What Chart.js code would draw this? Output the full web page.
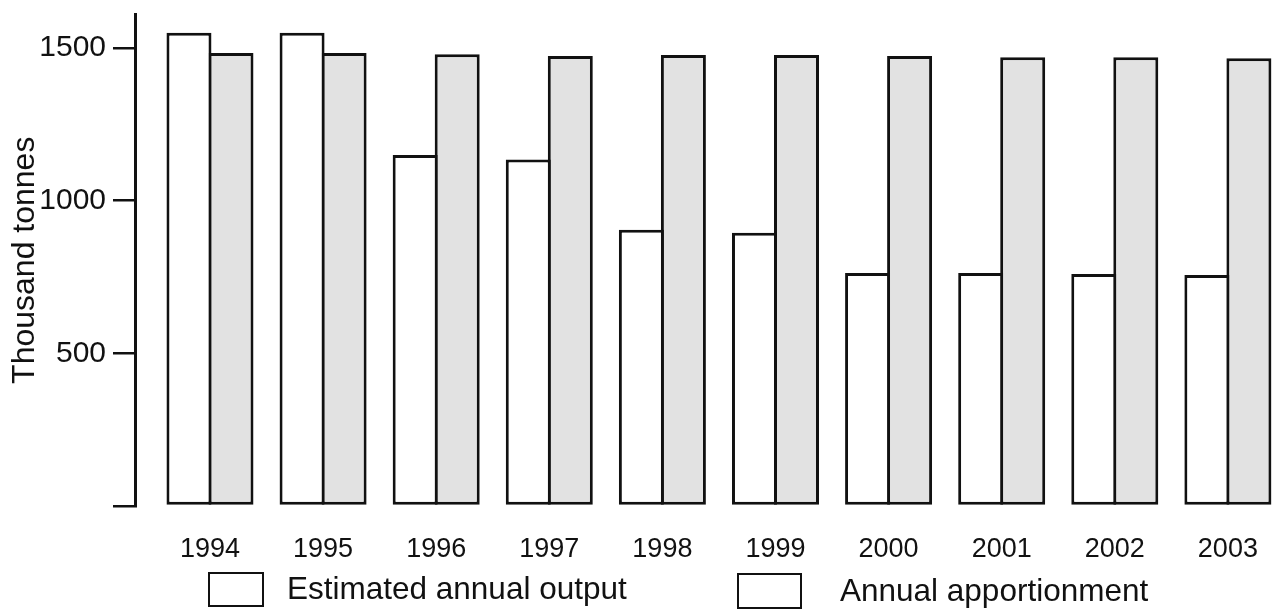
<!DOCTYPE html>
<html>
<head>
<meta charset="utf-8">
<title>Estimated annual output vs annual apportionment</title>
<script src="https://cdn.jsdelivr.net/npm/chart.js@4/dist/chart.umd.min.js"></script>
<style>
  html, body { margin: 0; padding: 0; background: #fff; overflow: hidden; }
  #wrap { position: relative; width: 1272px; height: 614px; }
</style>
</head>
<body>
<div id="wrap"><canvas id="chart"></canvas></div>
<script>
// Output vs apportionment, thousand tonnes

const YEARS = [1994, 1995, 1996, 1997, 1998, 1999, 2000, 2001, 2002, 2003];
const OUTPUT = [1550, 1550, 1150, 1135, 905, 895, 763, 763, 760, 757];
const APPORTIONMENT = [1484, 1484, 1480, 1474, 1477, 1477, 1474, 1470, 1470, 1467];
const Y_TICKS = [0, 500, 1000, 1500];

const FONT = "'Liberation Sans', Arial, Helvetica, sans-serif";
const INK = '#111';
const GREY = '#e2e2e2';

// legend drawn under the axis, like the printed figure
const bottomLegend = {
  id: 'bottomLegend',
  afterDraw(chart, args, opts) {
    const ctx = chart.ctx;
    ctx.save();
    ctx.font = `${opts.fontSize}px ${FONT}`;
    ctx.textBaseline = 'middle';
    chart.data.datasets.forEach((ds, i) => {
      const b = opts.boxes[i];
      ctx.fillStyle = '#fff';
      ctx.fillRect(b.x, b.y, b.w, b.h);
      ctx.strokeStyle = INK;
      ctx.lineWidth = 2;
      ctx.strokeRect(b.x, b.y, b.w, b.h);
      ctx.fillStyle = INK;
      ctx.fillText(ds.label, b.textX, b.y + b.h / 2 + 1);
    });
    ctx.restore();
  },
};

new Chart(document.getElementById('chart'), {
  type: 'bar',
  data: {
    labels: YEARS,
    datasets: [{
      label: 'Estimated annual output',
      data: OUTPUT,
      backgroundColor: '#fff',
      borderColor: INK,
      borderWidth: 3,
      borderSkipped: false,
    }, {
      label: 'Annual apportionment',
      data: APPORTIONMENT,
      backgroundColor: GREY,
      borderColor: INK,
      borderWidth: 3,
      borderSkipped: false,
    }],
  },
  options: {
    responsive: true,
    maintainAspectRatio: false,
    animation: false,
    categoryPercentage: 0.743,
    barPercentage: 1.071,
    layout: { padding: { top: 0, right: 0, bottom: 0, left: 0 } },
    plugins: {
      legend: { display: false },
      tooltip: { enabled: false },
      bottomLegend: {
        fontSize: 31.5,
        boxes: [
          { x: 209, y: 573, w: 54, h: 33, textX: 287 },
          { x: 738, y: 574, w: 63, h: 34, textX: 840 },
        ],
      },
    },
    scales: {
      x: {
        type: 'linear',
        min: 1993.337,
        max: 2003.39,
        offset: false,
        afterBuildTicks: scale => { scale.ticks = YEARS.map(v => ({ value: v })); },
        afterFit: scale => { scale.height = 108; },
        // tick marks hidden, their length only pushes the labels down
        grid: { display: false, drawTicks: true, tickLength: 27 },
        border: { display: false },
        ticks: {
          autoSkip: false,
          maxRotation: 0,
          padding: 0,
          color: INK,
          font: { family: FONT, size: 27 },
          callback: v => String(v),
        },
      },
      y: {
        min: 0,
        max: 1610,
        afterBuildTicks: scale => { scale.ticks = Y_TICKS.map(v => ({ value: v })); },
        afterFit: scale => { scale.width = 135; },
        grid: {
          drawOnChartArea: false,
          drawTicks: true,
          tickLength: 22,
          lineWidth: 2.5,
          color: INK,
        },
        border: { display: true, width: 3, color: INK },
        ticks: {
          padding: 7,
          color: INK,
          font: { family: FONT, size: 30, lineHeight: 0.5 },
          callback: v => (v === 0 ? '' : String(v)),
        },
        title: {
          display: true,
          text: 'Thousand tonnes',
          color: INK,
          font: { family: FONT, size: 32 },
          padding: { top: 6, bottom: 0 },
        },
      },
    },
  },
  plugins: [bottomLegend],
});
</script>
</body>
</html>
